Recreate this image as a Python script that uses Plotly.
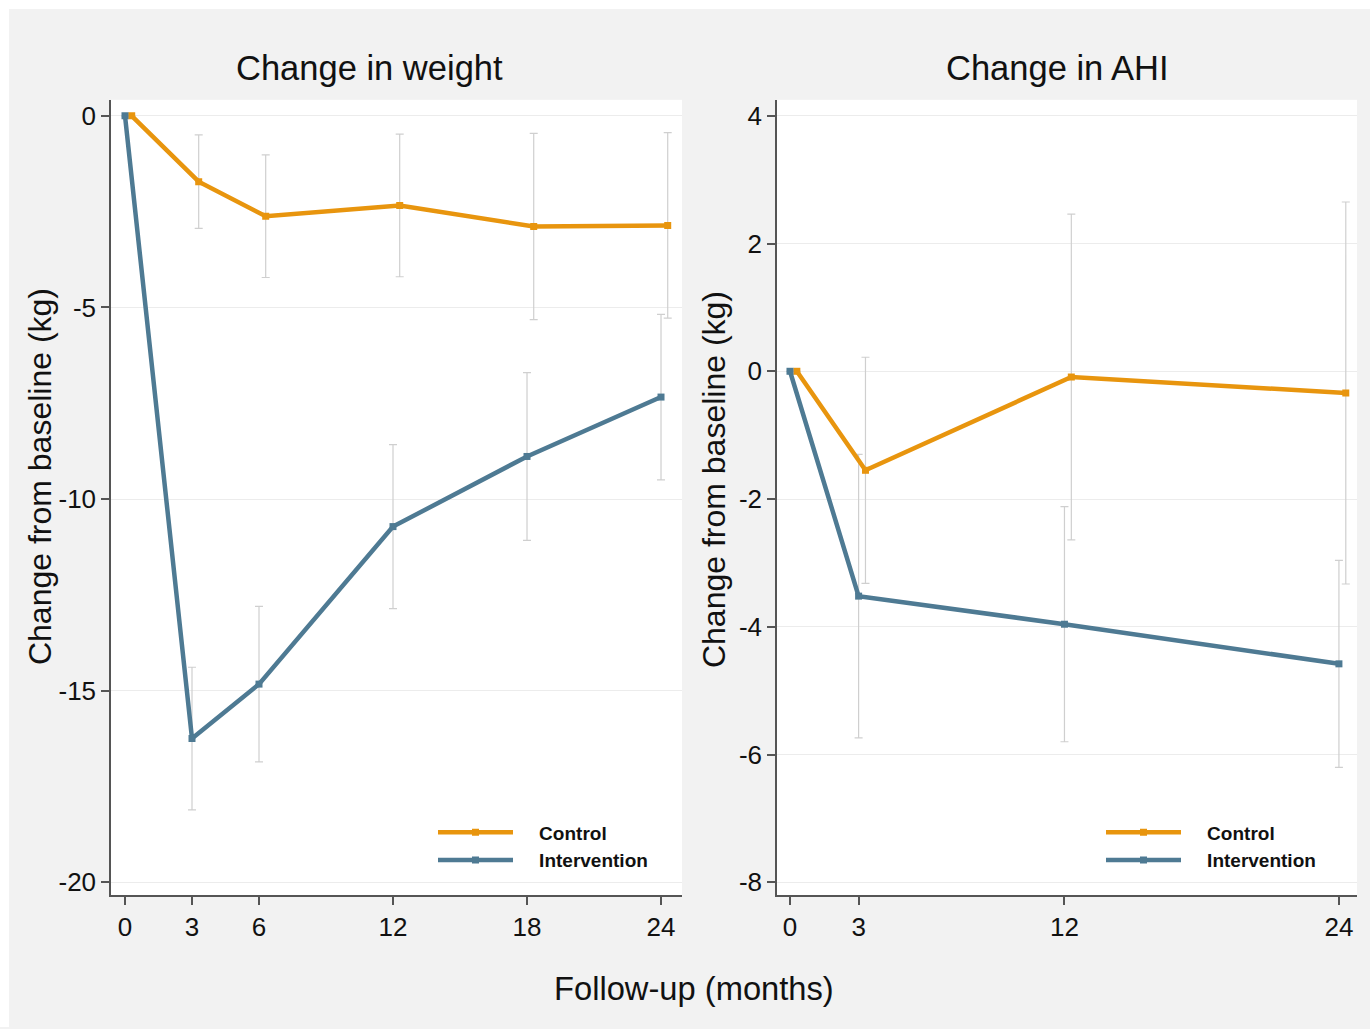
import plotly.graph_objects as go

# ---------------- data ----------------
weight_months = [0, 3, 6, 12, 18, 24]
weight_control = [0, -1.72, -2.62, -2.34, -2.89, -2.86]
weight_control_ci = [None, 1.22, 1.60, 1.86, 2.43, 2.42]
weight_interv = [0, -16.25, -14.83, -10.72, -8.89, -7.34]
weight_interv_ci = [None, 1.86, 2.03, 2.14, 2.19, 2.16]

ahi_months = [0, 3, 12, 24]
ahi_control = [0, -1.55, -0.09, -0.34]
ahi_control_ci = [None, 1.77, 2.55, 2.99]
ahi_interv = [0, -3.52, -3.96, -4.58]
ahi_interv_ci = [None, 2.22, 1.84, 1.62]

weight_xticks = [0, 3, 6, 12, 18, 24]
weight_yticks = [0, -5, -10, -15, -20]
weight_yticklabels = ["0", "-5", "-10", "-15", "-20"]
ahi_xticks = [0, 3, 12, 24]
ahi_yticks = [4, 2, 0, -2, -4, -6, -8]
ahi_yticklabels = ["4", "2", "0", "-2", "-4", "-6", "-8"]

series_names = ["Control", "Intervention"]

CONTROL_OFFSET = 0.3  # control group drawn slightly right of the intervention group

# ---------------- style ----------------
W, H = 1370, 1029
ORANGE = "#e8950e"
BLUE = "#4e7a93"
ERR = "#cfcfcf"
FONT = "Liberation Sans, Arial, sans-serif"
NBSP = "\u00a0" * 4


def px_x(p):
    return p / W


def px_y(p):
    return 1 - p / H


fig = go.Figure()


def add_panel(months, ctrl, ctrl_ci, intv, intv_ci, xa, ya, legend):
    cx = [m + CONTROL_OFFSET for m in months]
    # error bars (behind lines)
    for xs, ys, ci in ((months, intv, intv_ci), (cx, ctrl, ctrl_ci)):
        fig.add_trace(go.Scatter(
            x=xs, y=ys, mode="markers", xaxis=xa, yaxis=ya,
            marker=dict(size=1, color="rgba(0,0,0,0)"),
            error_y=dict(type="data", array=ci, symmetric=True, color=ERR,
                         thickness=1.2, width=4),
            showlegend=False, hoverinfo="skip"))
    fig.add_trace(go.Scatter(
        x=cx, y=ctrl, mode="lines+markers", name=NBSP + series_names[0],
        xaxis=xa, yaxis=ya,
        line=dict(color=ORANGE, width=4.5),
        marker=dict(symbol="square", size=7, color=ORANGE),
        legend=legend, legendgroup=legend + "c"))
    fig.add_trace(go.Scatter(
        x=months, y=intv, mode="lines+markers", name=NBSP + series_names[1],
        xaxis=xa, yaxis=ya,
        line=dict(color=BLUE, width=4.5),
        marker=dict(symbol="square", size=7, color=BLUE),
        legend=legend, legendgroup=legend + "i"))


add_panel(weight_months, weight_control, weight_control_ci,
          weight_interv, weight_interv_ci, "x", "y", "legend")
add_panel(ahi_months, ahi_control, ahi_control_ci,
          ahi_interv, ahi_interv_ci, "x2", "y2", "legend2")

axis_common = dict(
    showline=True, linecolor="#555555", linewidth=1.5,
    ticks="outside", ticklen=8, tickwidth=1.5, tickcolor="#555555",
    tickfont=dict(family=FONT, size=26, color="#111111"),
    zeroline=False, mirror=False, fixedrange=True,
)

legend_common = dict(
    xanchor="left", yanchor="top", bgcolor="rgba(255,255,255,0)",
    itemwidth=75, traceorder="grouped", tracegroupgap=0,
    font=dict(family=FONT, size=19, color="#111111", weight="bold"),
)

ytop, ybot = 100, 897
fig.update_layout(
    width=W, height=H,
    margin=dict(l=0, r=0, t=0, b=0),
    paper_bgcolor="#f2f2f2",
    plot_bgcolor="white",
    font=dict(family=FONT, color="#111111"),
    xaxis=dict(domain=[px_x(111), px_x(682)], anchor="y",
               range=[-0.627, 24.94], tickvals=weight_xticks,
               showgrid=False, **axis_common),
    yaxis=dict(domain=[px_y(ybot), px_y(ytop)], anchor="x",
               range=[-20.34, 0.417], tickvals=weight_yticks,
               ticktext=weight_yticklabels,
               showgrid=True, gridcolor="#ececec", gridwidth=1.2, **axis_common),
    xaxis2=dict(domain=[px_x(777), px_x(1357)], anchor="y2",
                range=[-0.568, 24.79], tickvals=ahi_xticks,
                showgrid=False, **axis_common),
    yaxis2=dict(domain=[px_y(ybot), px_y(ytop)], anchor="x2",
                range=[-8.203, 4.25], tickvals=ahi_yticks,
                ticktext=ahi_yticklabels,
                showgrid=True, gridcolor="#ececec", gridwidth=1.2, **axis_common),
    legend=dict(x=px_x(433), y=px_y(815), **legend_common),
    legend2=dict(x=px_x(1101), y=px_y(815), **legend_common),
    shapes=[
        dict(type="rect", xref="paper", yref="paper", x0=0, x1=1,
             y0=px_y(9), y1=1, fillcolor="white", line=dict(width=0), layer="below"),
        dict(type="rect", xref="paper", yref="paper", x0=0, x1=px_x(9),
             y0=0, y1=1, fillcolor="white", line=dict(width=0), layer="below"),
    ],
    annotations=[
        dict(text="Change in weight", x=px_x(369), y=px_y(68), xref="paper", yref="paper",
             showarrow=False, font=dict(family=FONT, size=34.5, color="#111111"),
             xanchor="center", yanchor="middle"),
        dict(text="Change in AHI", x=px_x(1057), y=px_y(68), xref="paper", yref="paper",
             showarrow=False, font=dict(family=FONT, size=34.5, color="#111111"),
             xanchor="center", yanchor="middle"),
        dict(text="Change from baseline (kg)", x=px_x(40), y=px_y(478), xref="paper",
             yref="paper", textangle=-90, showarrow=False,
             font=dict(family=FONT, size=32, color="#111111"),
             xanchor="center", yanchor="middle"),
        dict(text="Change from baseline (kg)", x=px_x(714), y=px_y(481), xref="paper",
             yref="paper", textangle=-90, showarrow=False,
             font=dict(family=FONT, size=32, color="#111111"),
             xanchor="center", yanchor="middle"),
        dict(text="Follow-up (months)", x=px_x(694), y=px_y(990), xref="paper",
             yref="paper", showarrow=False,
             font=dict(family=FONT, size=32.7, color="#111111"),
             xanchor="center", yanchor="middle"),
    ],
)

fig.write_html("out.html")
